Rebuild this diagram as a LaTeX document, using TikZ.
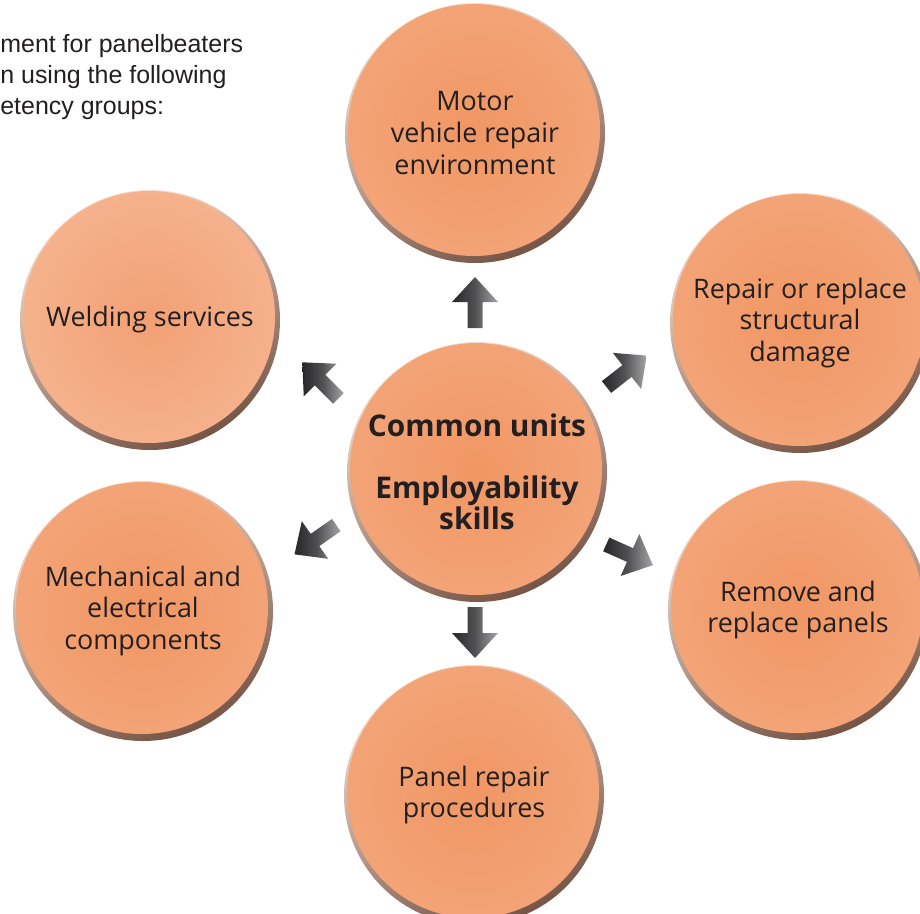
\documentclass[tikz,border=0pt]{standalone}
\usepackage{fontspec}
\setmainfont{Open Sans}
\newfontfamily\introfont{Liberation Sans}

\definecolor{orcore}{RGB}{241,150,100}
\definecolor{ormid}{RGB}{243,166,122}
\definecolor{orrim}{RGB}{247,188,155}
\definecolor{palecore}{RGB}{242,160,116}
\definecolor{palerim}{RGB}{248,196,166}
\definecolor{rimlight}{RGB}{251,228,214}
\definecolor{rimdark}{RGB}{118,84,70}
\definecolor{txtgray}{RGB}{35,31,32}
\definecolor{arrdark}{RGB}{38,38,40}
\definecolor{arrlight}{RGB}{165,165,168}

\pgfdeclareradialshading{unitball}{\pgfpointorigin}{color(0bp)=(orcore); color(28bp)=(ormid); color(50bp)=(orrim)}
\pgfdeclareradialshading{paleball}{\pgfpointorigin}{color(0bp)=(palecore); color(50bp)=(palerim)}

\tikzset{
  ball/.store in=\ballname, ball=unitball,
  unit/.style={circle, minimum size=5.2cm, inner sep=0pt, align=center, text=txtgray,
    font=\fontsize{15.3}{18}\selectfont,
    top color=rimlight, bottom color=rimdark, shading angle=25,
    path picture={\shade[shading=\ballname]
      ([xshift=-0.2mm,yshift=0.6mm]path picture bounding box.center) circle (2.52cm);}},
  blockarr/.pic={\shade[left color=arrdark, right color=arrlight, middle color=arrdark!80]
    (-0.52,-0.15) -- (0,-0.15) -- (0,-0.46) -- (0.5,0) -- (0,0.46) -- (0,0.15) -- (-0.52,0.15) -- cycle;}
}

\begin{document}
\begin{tikzpicture}
 \useasboundingbox (0,0) rectangle (18.4,18.26);
 \clip (0,0) rectangle (18.4,18.26);

 \node[anchor=north west, inner sep=0pt, align=left, text=txtgray,
   font=\introfont\fontsize{14.2}{17.6}\selectfont] (intro) at (0,17.58)
   {ment for panelbeaters\\n using the following\\etency groups:};

 \node[unit] (motor) at (9.5,15.6) {Motor\\vehicle repair\\environment};
 \node[unit, ball=paleball] (weld) at (3.0,11.86) {Welding services};
 \node[unit] (struct) at (16.0,11.8) {Repair or replace\\structural\\damage};
 \node[unit] (mech) at (2.86,6.04) {Mechanical and\\electrical\\components};
 \node[unit] (panels) at (15.96,6.06) {Remove and\\replace panels};
 \node[unit] (proc) at (9.48,2.36) {Panel repair\\procedures};

 \node[unit, font=\bfseries\fontsize{17}{17.6}\selectfont] (common) at (9.54,8.82)
   {Common units\\[17.6pt]Employability\\skills};

 \pic[rotate=90] (toup) at (9.5,12.22) {blockarr};
 \pic[rotate=-90] (todown) at (9.5,5.6) {blockarr};
 \pic[rotate=135] (toweld) at (6.4,10.66) {blockarr};
 \pic[rotate=38] (tostruct) at (12.54,10.84) {blockarr};
 \pic[rotate=-145] (tomech) at (6.3,7.46) {blockarr};
 \pic[rotate=-24] (topanels) at (12.6,7.16) {blockarr};
\end{tikzpicture}
\end{document}
